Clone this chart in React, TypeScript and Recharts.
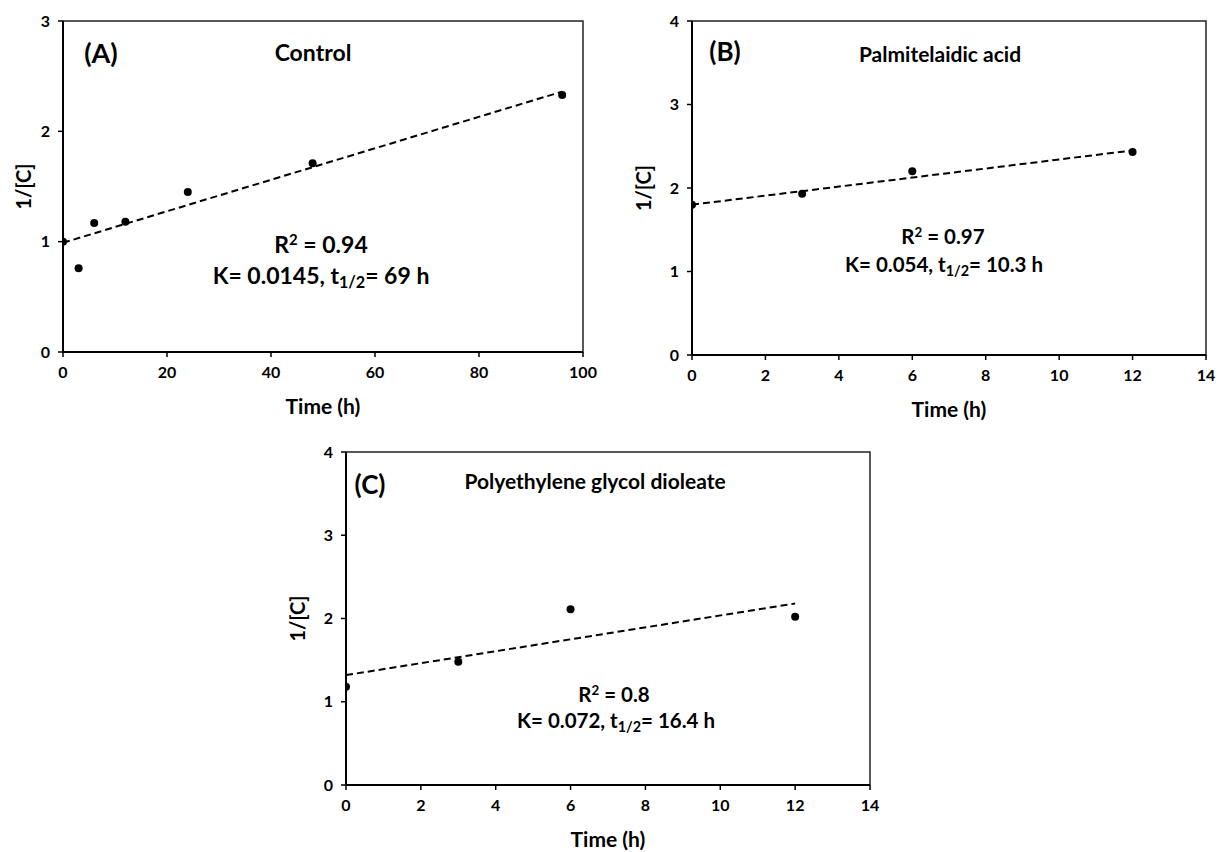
import React from 'react';
import {
  ScatterChart, Scatter, XAxis, YAxis, ReferenceLine, ReferenceArea, Label,
} from 'recharts';

// ---------- data ----------
const timeA = [0, 3, 6, 12, 24, 48, 96];
const invCA = [1.0, 0.76, 1.17, 1.18, 1.45, 1.71, 2.33];
const trendTimeA = [0, 96];
const trendA = [0.99, 2.36];
const xTicksA = [0, 20, 40, 60, 80, 100];
const yTicksA = [0, 1, 2, 3];

const timeB = [0, 3, 6, 12];
const invCB = [1.8, 1.93, 2.2, 2.43];
const trendTimeB = [0, 12];
const trendB = [1.8, 2.45];

const timeC = [0, 3, 6, 12];
const invCC = [1.18, 1.48, 2.11, 2.02];
const trendTimeC = [0, 12];
const trendC = [1.32, 2.18];

const xTicksBC = [0, 2, 4, 6, 8, 10, 12, 14];
const yTicksBC = [0, 1, 2, 3, 4];

const FONT = 'Lato, "Open Sans", sans-serif';

const toPts = (xs: number[], ys: number[]) => xs.map((x, i) => ({ x, y: ys[i] }));

const Dot = (props: any) => (
  <circle cx={props.cx} cy={props.cy} r={4} fill="#000" />
);

const tickStyle = { fill: '#000', fontFamily: FONT, fontWeight: 700, fontSize: 16 };

const XTitle = (props: any) => {
  const vb = props.viewBox || {};
  return (
    <text x={vb.x + vb.width / 2} y={vb.y + 53} textAnchor="middle" dominantBaseline="central"
      fontFamily={FONT} fontWeight={700} fontSize={21} fill="#000">Time (h)</text>
  );
};

const makeYTitle = (off: number) => (props: any) => {
  const vb = props.viewBox || {};
  const x = vb.x + vb.width - off;
  const y = vb.y + vb.height / 2;
  return (
    <text x={x} y={y} transform={`rotate(-90 ${x} ${y})`} textAnchor="middle" dominantBaseline="central"
      fontFamily={FONT} fontWeight={700} fontSize={20} fill="#000">1/[C]</text>
  );
};

type PanelProps = {
  left: number; top: number; width: number; height: number;
  margin: any; yAxisWidth: number; xAxisHeight: number;
  xs: number[]; ys: number[]; tx: number[]; ty: number[];
  xMax: number; yMax: number; xTicks: number[]; yTicks: number[]; yTitleOff: number;
};

const Panel = (p: PanelProps) => {
  const pts = toPts(p.xs, p.ys);
  return (
    <div style={{ position: 'absolute', left: p.left, top: p.top }}>
      <ScatterChart width={p.width} height={p.height} margin={p.margin}>
        <ReferenceArea x1={0} x2={p.xMax} y1={0} y2={p.yMax} fill="none" stroke="#222" strokeWidth={1.5} ifOverflow="visible" />
        <XAxis type="number" dataKey="x" domain={[0, p.xMax]} ticks={p.xTicks} height={p.xAxisHeight}
          axisLine={{ stroke: '#000', strokeWidth: 2 }} tickLine={{ stroke: '#000', strokeWidth: 1.5 }}
          tickSize={5} tickMargin={10} tick={tickStyle} interval={0} allowDataOverflow>
          <Label content={<XTitle />} />
        </XAxis>
        <YAxis type="number" dataKey="y" domain={[0, p.yMax]} ticks={p.yTicks} width={p.yAxisWidth}
          axisLine={{ stroke: '#000', strokeWidth: 2 }} tickLine={{ stroke: '#000', strokeWidth: 1.5 }}
          tickSize={5} tickMargin={8} tick={tickStyle} interval={0} allowDataOverflow>
          <Label content={makeYTitle(p.yTitleOff)} />
        </YAxis>
        <ReferenceLine
          segment={[{ x: p.tx[0], y: p.ty[0] }, { x: p.tx[1], y: p.ty[1] }]}
          stroke="#000" strokeWidth={2} strokeDasharray="7 4" ifOverflow="visible" />
        <Scatter data={pts} fill="#000" shape={<Dot />} isAnimationActive={false} />
      </ScatterChart>
    </div>
  );
};

const Txt = ({ x, y, size, children }: { x: number; y: number; size: number; children: React.ReactNode }) => (
  <div style={{
    position: 'absolute', left: x, top: y, transform: 'translate(-50%, -50%)',
    fontFamily: FONT, fontWeight: 700, fontSize: size, lineHeight: 1, whiteSpace: 'nowrap', color: '#000',
  }}>{children}</div>
);

const Sup = ({ children }: any) => <span style={{ fontSize: '0.65em', verticalAlign: '0.55em' }}>{children}</span>;
const Sub = ({ children }: any) => <span style={{ fontSize: '0.7em', verticalAlign: '-0.3em' }}>{children}</span>;

export default function App() {
  return (
    <div style={{ position: 'absolute', left: 0, top: 0, width: 1219, height: 852, background: '#fff', overflow: 'hidden' }}>
      <Panel left={0} top={0} width={600} height={430}
        margin={{ top: 21, right: 17, bottom: 0, left: 0 }} yAxisWidth={63} xAxisHeight={78}
        xs={timeA} ys={invCA} tx={trendTimeA} ty={trendA}
        xMax={100} yMax={3} xTicks={xTicksA} yTicks={yTicksA} yTitleOff={40} />
      <Panel left={620} top={0} width={599} height={430}
        margin={{ top: 21, right: 13, bottom: 0, left: 0 }} yAxisWidth={72} xAxisHeight={75}
        xs={timeB} ys={invCB} tx={trendTimeB} ty={trendB}
        xMax={14} yMax={4} xTicks={xTicksBC} yTicks={yTicksBC} yTitleOff={49} />
      <Panel left={270} top={430} width={620} height={422}
        margin={{ top: 22, right: 20, bottom: 0, left: 0 }} yAxisWidth={76} xAxisHeight={67}
        xs={timeC} ys={invCC} tx={trendTimeC} ty={trendC}
        xMax={14} yMax={4} xTicks={xTicksBC} yTicks={yTicksBC} yTitleOff={49} />

      {/* Panel A annotations */}
      <Txt x={101} y={52} size={27}>(A)</Txt>
      <Txt x={313} y={52} size={23}>Control</Txt>
      <Txt x={321} y={244} size={23}>R<Sup>2</Sup> = 0.94</Txt>
      <Txt x={321} y={277} size={23}>K= 0.0145, t<Sub>1/2</Sub>= 69 h</Txt>

      {/* Panel B annotations */}
      <Txt x={725} y={51} size={26}>(B)</Txt>
      <Txt x={940} y={53} size={21}>Palmitelaidic acid</Txt>
      <Txt x={943} y={236} size={20.5}>R<Sup>2</Sup> = 0.97</Txt>
      <Txt x={944} y={266} size={20.5}>K= 0.054, t<Sub>1/2</Sub>= 10.3 h</Txt>

      {/* Panel C annotations */}
      <Txt x={370} y={484} size={26}>(C)</Txt>
      <Txt x={595} y={480} size={21}>Polyethylene glycol dioleate</Txt>
      <Txt x={614} y={694} size={20.5}>R<Sup>2</Sup> = 0.8</Txt>
      <Txt x={616} y={722} size={20.5}>K= 0.072, t<Sub>1/2</Sub>= 16.4 h</Txt>
    </div>
  );
}
